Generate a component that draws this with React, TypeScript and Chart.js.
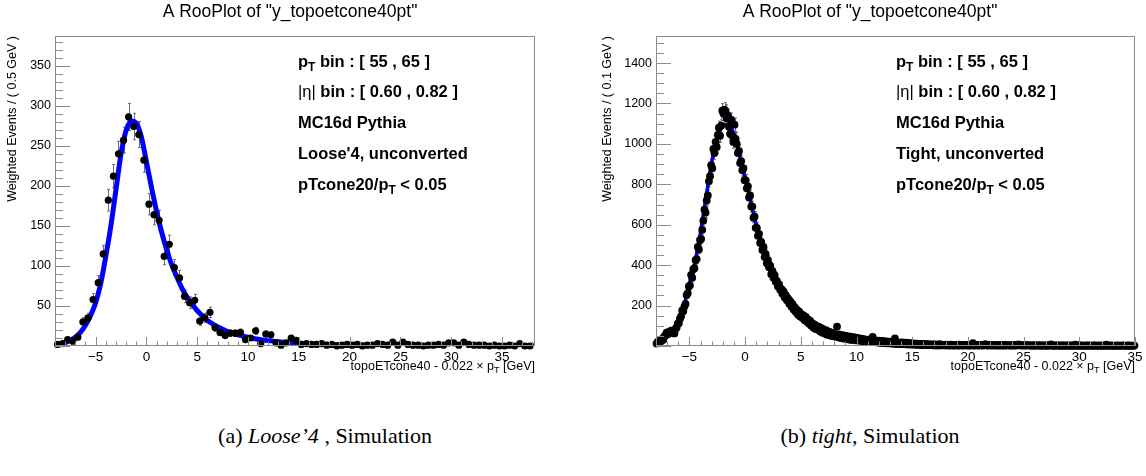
import React, { useEffect, useRef } from "react";
import { Chart, registerables } from "chart.js";

Chart.register(...registerables);

// ---------------- shared text ----------------
const PLOT_TITLE = 'A RooPlot of "y_topoetcone40pt"';
const X_TICK_STEP = 5;
const X_MINOR_STEP = 1;

// ---------------- panel (a): Loose'4, 0.5 GeV bins from -9 ----------------
const looseXMin = -9;
const looseXMax = 38.25;
const looseBinWidth = 0.5;
// weighted events per 0.5 GeV bin (two bins per GeV, starting at -9)
const looseCounts = [
  2, 3, 8, 6, 11, 30, 35, 58, 79, 115,
  182, 212, 240, 257, 286, 274, 264, 232, 177, 164,
  157, 112, 127, 98, 85, 62, 54, 57, 31, 35,
  42, 23, 17, 13, 16, 16, 17, 8, 10, 19,
  3, 15, 14, 4, 1, 4, 10, 7, 2, 3,
  2, 2, 3, 1, 2, 0, 1, 2, 1, 2,
  0, 1, 1, 3, 2, 1, 5, 1, 5, 2,
  1, 1, 0, 1, 1, 2, 1, 4, 4, 1,
  5, 2, 1, 1, 1, 0, 1, 0, 0, 1,
  0, 3, 0, 0,
];
// fitted model curve
const looseCurveX = [-9, -8.5, -8, -7.5, -7, -6.5, -6, -5.5, -5, -4.5, -4, -3.5, -3, -2.5, -2, -1.5, -1, -0.5, 0, 0.5, 1, 1.5, 2, 2.5, 3, 3.5, 4, 4.5, 5, 5.5, 6, 7, 8, 9, 10, 11, 12, 13, 14, 15, 16, 18, 20, 25, 30, 38.25];
const looseCurveY = [1.5, 2.5, 4, 7, 11, 17, 26, 38, 54, 78, 112, 150, 195, 240, 269, 281, 278, 261, 230, 198, 168, 142, 120, 101, 86, 72, 61, 52, 44, 38, 32, 24, 18, 14, 11, 8.5, 6.7, 5.3, 4.2, 3.4, 2.8, 2, 1.5, 0.9, 0.6, 0.4];
const looseYMax = 387;
const looseYStep = 50;
const looseYMinor = 10;
const looseYTitle = "Weighted Events / ( 0.5 GeV )";
const looseSelection = "Loose'4, unconverted";

// ---------------- panel (b): Tight, 0.1 GeV bins from -8 ----------------
const tightXMin = -8;
const tightXMax = 35;
const tightBinWidth = 0.1;
// weighted events per 0.1 GeV bin (one row = 1 GeV, starting at -8)
const tightCounts = [
  12, 20, 17, 26, 24, 35, 31, 47, 52, 66,
  58, 70, 64, 76, 68, 73, 62, 84, 92, 110,
  112, 135, 146, 176, 172, 195, 208, 252, 262, 295,
  300, 352, 338, 380, 385, 425, 430, 490, 478, 525,
  530, 575, 620, 675, 660, 720, 745, 815, 840, 895,
  880, 975, 955, 1010, 985, 1045, 1080, 1040, 1090, 1165,
  1150, 1170, 1160, 1125, 1140, 1085, 1050, 1120, 1040, 1010,
  1095, 1025, 1000, 955, 965, 905, 915, 870, 880, 820,
  820, 780, 790, 735, 745, 690, 690, 635, 640, 585,
  585, 545, 555, 510, 515, 475, 490, 440, 455, 410,
  425, 390, 398, 355, 372, 338, 350, 318, 322, 295,
  305, 278, 283, 258, 270, 240, 252, 226, 236, 210,
  222, 196, 208, 180, 192, 168, 180, 155, 170, 146,
  158, 138, 152, 128, 144, 120, 132, 110, 124, 100,
  112, 90, 106, 84, 98, 80, 94, 72, 88, 66,
  82, 62, 78, 56, 72, 54, 68, 50, 64, 48,
  60, 46, 96, 44, 58, 40, 54, 38, 52, 36,
  50, 34, 48, 32, 46, 30, 44, 30, 42, 28,
  40, 28, 38, 26, 36, 24, 34, 24, 32, 22,
  32, 22, 30, 20, 45, 19, 28, 18, 27, 17,
  26, 16, 25, 15, 24, 14, 23, 13, 22, 13,
  21, 12, 20, 11, 38, 11, 18, 10, 17, 10,
  18, 9, 17, 9, 16, 8, 15, 8, 14, 7,
  13, 7, 12, 6, 12, 6, 11, 5, 10, 5,
  10, 5, 9, 4, 9, 4, 8, 4, 8, 3,
  8, 3, 7, 3, 9, 3, 7, 4, 6, 3,
  7, 3, 6, 2, 7, 3, 6, 2, 6, 3,
  6, 2, 7, 3, 5, 2, 6, 3, 5, 2,
  6, 2, 5, 3, 14, 2, 5, 3, 5, 2,
  5, 3, 4, 2, 5, 9, 5, 2, 4, 3,
  5, 2, 4, 3, 5, 2, 4, 2, 5, 2,
  4, 2, 5, 2, 4, 3, 4, 2, 4, 2,
  4, 2, 5, 2, 4, 8, 4, 2, 4, 2,
  4, 2, 4, 3, 4, 2, 3, 2, 4, 1,
  4, 2, 3, 2, 4, 1, 3, 2, 3, 2,
  3, 1, 4, 2, 8, 2, 3, 1, 3, 2,
  3, 2, 3, 1, 3, 2, 3, 1, 3, 2,
  3, 1, 3, 2, 3, 1, 7, 2, 3, 1,
  3, 2, 3, 1, 2, 2, 3, 1, 3, 2,
  2, 1, 3, 2, 3, 1, 2, 2, 3, 1,
  2, 2, 3, 1, 7, 2, 2, 1, 3, 2,
  2, 1, 2, 2, 3, 1, 2, 2, 2, 3,
  2, 1, 2, 2, 3, 1, 2, 2, 1, 2,
];
const tightCurveX = [-8, -7.5, -7, -6.5, -6, -5.5, -5, -4.5, -4, -3.5, -3, -2.5, -2, -1.5, -1, -0.5, 0, 0.5, 1, 1.5, 2, 2.5, 3, 3.5, 4, 4.5, 5, 5.5, 6, 7, 8, 9, 10, 11, 12, 13, 14, 15, 16, 18, 20, 25, 30, 35];
const tightCurveY = [18, 32, 50, 78, 118, 195, 310, 415, 565, 740, 910, 1035, 1095, 1095, 1050, 950, 830, 715, 600, 505, 430, 365, 305, 258, 218, 184, 155, 130, 110, 80, 60, 46, 37, 30, 24, 19, 15, 12, 9.5, 7, 5, 3, 2, 1.5];
const tightYMax = 1534;
const tightYStep = 200;
const tightYMinor = 50;
const tightYTitle = "Weighted Events / ( 0.1 GeV )";
const tightSelection = "Tight, unconverted";

// ---------------- text box lines ----------------
const ptBinText = " bin : [ 55 , 65 ]";
const etaBinText = " bin : [ 0.60 , 0.82 ]";
const generatorText = "MC16d Pythia";
const isoCutPrefix = "pTcone20/p";
const isoCutSuffix = " < 0.05";

type Seg = { t: string; bold?: boolean; sub?: boolean };

const FONT = '"Liberation Sans", Arial, Helvetica, sans-serif';

function infoLines(selection: string): Seg[][] {
  return [
    [{ t: "p", bold: true }, { t: "T", bold: true, sub: true }, { t: ptBinText, bold: true }],
    [{ t: "|\u03b7|" }, { t: etaBinText, bold: true }],
    [{ t: generatorText, bold: true }],
    [{ t: selection, bold: true }],
    [{ t: isoCutPrefix, bold: true }, { t: "T", bold: true, sub: true }, { t: isoCutSuffix, bold: true }],
  ];
}

const xTitleSegs: Seg[] = [
  { t: "topoETcone40 - 0.022 \u00d7 p" },
  { t: "T", sub: true },
  { t: " [GeV]" },
];

function drawRich(ctx: CanvasRenderingContext2D, segs: Seg[], x: number, y: number, size: number, align: "left" | "right") {
  const fontOf = (s: Seg) => `${s.bold ? "bold " : ""}${s.sub ? size * 0.72 : size}px ${FONT}`;
  const widths = segs.map((s) => {
    ctx.font = fontOf(s);
    return ctx.measureText(s.t).width;
  });
  const total = widths.reduce((a, b) => a + b, 0);
  let cx = align === "right" ? x - total : x;
  ctx.textAlign = "left";
  ctx.textBaseline = "middle";
  segs.forEach((s, i) => {
    ctx.font = fontOf(s);
    ctx.fillText(s.t, cx, s.sub ? y + size * 0.32 : y);
    cx += widths[i];
  });
}

type PanelCfg = {
  left: number;
  width: number;
  height: number;
  axisLeft: number;
  axisRight: number;
  axisTop: number;
  axisBottom: number;
  xMin: number;
  xMax: number;
  binWidth: number;
  counts: number[];
  curveX: number[];
  curveY: number[];
  curveWidth: number;
  pointRadius: number;
  yMax: number;
  yStep: number;
  yMinor: number;
  yTitle: string;
  yTitleX: number;
  titleCx: number;
  textX: number;
  textYs: number[];
  selection: string;
};

const panelA: PanelCfg = {
  left: 0, width: 573, height: 380,
  axisLeft: 55, axisRight: 535, axisTop: 36, axisBottom: 346,
  xMin: looseXMin, xMax: looseXMax, binWidth: looseBinWidth,
  counts: looseCounts, curveX: looseCurveX, curveY: looseCurveY, curveWidth: 5, pointRadius: 3.6,
  yMax: looseYMax, yStep: looseYStep, yMinor: looseYMinor, yTitle: looseYTitle,
  yTitleX: 13, titleCx: 290, textX: 298, textYs: [62, 92, 123, 154, 185],
  selection: looseSelection,
};

const panelB: PanelCfg = {
  left: 573, width: 573, height: 380,
  axisLeft: 83, axisRight: 562, axisTop: 36, axisBottom: 346,
  xMin: tightXMin, xMax: tightXMax, binWidth: tightBinWidth,
  counts: tightCounts, curveX: tightCurveX, curveY: tightCurveY, curveWidth: 3.5, pointRadius: 3.9,
  yMax: tightYMax, yStep: tightYStep, yMinor: tightYMinor, yTitle: tightYTitle,
  yTitleX: 35, titleCx: 297, textX: 323, textYs: [62, 92, 123, 154, 185],
  selection: tightSelection,
};

function RooPanel({ cfg }: { cfg: PanelCfg }) {
  const ref = useRef<HTMLCanvasElement>(null);
  useEffect(() => {
    const canvas = ref.current!;
    const points = cfg.counts.map((c, i) => ({ x: cfg.xMin + (i + 0.5) * cfg.binWidth, y: c }));
    const curve = cfg.curveX.map((x, i) => ({ x, y: cfg.curveY[i] }));
    const lines = infoLines(cfg.selection);

    const rooPlugin = {
      id: "rooDecor",
      beforeDatasetsDraw(chart: any) {
        const ctx: CanvasRenderingContext2D = chart.ctx;
        const xs = chart.scales.x;
        const ys = chart.scales.y;
        ctx.save();
        ctx.strokeStyle = "#6e6e6e";
        ctx.lineWidth = 1;
        ctx.beginPath();
        points.forEach((p) => {
          const err = Math.sqrt(p.y); // Poisson error of the bin content
          if (err <= 0) return;
          const px = Math.round(xs.getPixelForValue(p.x)) + 0.5;
          const y1 = ys.getPixelForValue(p.y + err);
          const y2 = ys.getPixelForValue(Math.max(0, p.y - err));
          ctx.moveTo(px, y1);
          ctx.lineTo(px, y2);
          ctx.moveTo(px - 1.5, y1);
          ctx.lineTo(px + 1.5, y1);
          ctx.moveTo(px - 1.5, y2);
          ctx.lineTo(px + 1.5, y2);
        });
        ctx.stroke();
        ctx.restore();
      },
      afterDraw(chart: any) {
        const ctx: CanvasRenderingContext2D = chart.ctx;
        const { left, right, top, bottom } = chart.chartArea;
        const xs = chart.scales.x;
        const ys = chart.scales.y;
        ctx.save();
        // frame
        ctx.strokeStyle = "#8a8a8a";
        ctx.lineWidth = 1;
        ctx.strokeRect(Math.round(left) + 0.5, Math.round(top) + 0.5, Math.round(right - left) - 1, Math.round(bottom - top) - 1);
        // y ticks (inside)
        ctx.beginPath();
        const perMajorY = Math.round(cfg.yStep / cfg.yMinor);
        for (let k = 0; k * cfg.yMinor <= cfg.yMax; k++) {
          const v = k * cfg.yMinor;
          const py = Math.round(ys.getPixelForValue(v)) + 0.5;
          const len = k % perMajorY === 0 ? 15 : 8;
          ctx.moveTo(left, py);
          ctx.lineTo(left + len, py);
        }
        // x ticks (inside)
        const perMajorX = Math.round(X_TICK_STEP / X_MINOR_STEP);
        for (let k = Math.ceil(cfg.xMin / X_MINOR_STEP); k * X_MINOR_STEP <= cfg.xMax; k++) {
          const v = k * X_MINOR_STEP;
          const px = Math.round(xs.getPixelForValue(v)) + 0.5;
          const len = k % perMajorX === 0 ? 9 : 4.5;
          ctx.moveTo(px, bottom);
          ctx.lineTo(px, bottom - len);
        }
        ctx.stroke();

        ctx.fillStyle = "#000";
        // title
        ctx.font = `17.5px ${FONT}`;
        ctx.textAlign = "center";
        ctx.textBaseline = "middle";
        ctx.fillText(PLOT_TITLE, cfg.titleCx, 12);
        // y title
        ctx.save();
        ctx.translate(cfg.yTitleX, top);
        ctx.rotate(-Math.PI / 2);
        ctx.font = `12.5px ${FONT}`;
        ctx.textAlign = "right";
        ctx.textBaseline = "middle";
        ctx.fillText(cfg.yTitle, 0, 0);
        ctx.restore();
        // x title
        drawRich(ctx, xTitleSegs, right, 367, 12.5, "right");
        // info box
        lines.forEach((segs, i) => drawRich(ctx, segs, cfg.textX, cfg.textYs[i], 16.5, "left"));
        ctx.restore();
      },
    };

    const chart = new Chart(canvas, {
      type: "scatter",
      data: {
        datasets: [
          {
            data: points,
            pointRadius: cfg.pointRadius,
            pointBackgroundColor: "#000",
            pointBorderWidth: 0,
            showLine: false,
            clip: false,
          } as any,
          {
            data: curve,
            showLine: true,
            borderColor: "#0000ff",
            borderWidth: cfg.curveWidth,
            pointRadius: 0,
            cubicInterpolationMode: "monotone",
            fill: false,
          } as any,
        ],
      },
      options: {
        responsive: false,
        animation: false,
        events: [],
        layout: { padding: { left: 0, right: cfg.width - cfg.axisRight, top: cfg.axisTop, bottom: 0 } },
        plugins: { legend: { display: false }, tooltip: { enabled: false }, title: { display: false } },
        scales: {
          x: {
            type: "linear",
            min: cfg.xMin,
            max: cfg.xMax,
            grid: { display: false, drawTicks: false },
            border: { display: false },
            ticks: {
              stepSize: X_TICK_STEP,
              includeBounds: false,
              autoSkip: false,
              maxRotation: 0,
              padding: 3,
              color: "#000",
              font: { family: FONT, size: 13.5 },
              callback: (v: any) => (Number(v) < 0 ? "\u2212" + Math.abs(Number(v)) : String(v)),
            },
            afterFit: (s: any) => {
              s.height = cfg.height - cfg.axisBottom;
            },
          },
          y: {
            type: "linear",
            min: 0,
            max: cfg.yMax,
            grid: { display: false, drawTicks: false },
            border: { display: false },
            ticks: {
              stepSize: cfg.yStep,
              includeBounds: false,
              autoSkip: false,
              padding: 4,
              color: "#000",
              font: { family: FONT, size: 12.5 },
              callback: (v: any) => (Number(v) === 0 ? "" : String(v)),
            },
            afterFit: (s: any) => {
              s.width = cfg.axisLeft;
            },
          },
        },
      } as any,
      plugins: [rooPlugin],
    });
    return () => chart.destroy();
  }, [cfg]);

  return (
    <canvas
      ref={ref}
      width={cfg.width}
      height={cfg.height}
      style={{ position: "absolute", left: cfg.left, top: 0, width: cfg.width, height: cfg.height }}
    />
  );
}

const captionStyle: React.CSSProperties = {
  position: "absolute",
  top: 421,
  width: 400,
  height: 30,
  lineHeight: "30px",
  textAlign: "center",
  fontFamily: '"Liberation Serif", "Times New Roman", serif',
  fontSize: 22,
  color: "#000",
  whiteSpace: "nowrap",
};

export default function App() {
  useEffect(() => {
    document.body.style.margin = "0";
  }, []);
  return (
    <div style={{ position: "absolute", left: 0, top: 0, width: 1146, height: 476, background: "#fff", overflow: "hidden" }}>
      <RooPanel cfg={panelA} />
      <RooPanel cfg={panelB} />
      <div style={{ ...captionStyle, left: 325 - 200 }}>
        (a) <i>Loose’4</i> , Simulation
      </div>
      <div style={{ ...captionStyle, left: 870 - 200 }}>
        (b) <i>tight</i>, Simulation
      </div>
    </div>
  );
}
